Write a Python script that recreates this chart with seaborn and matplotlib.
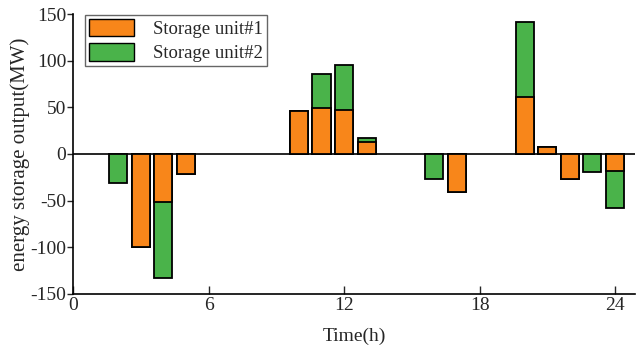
import matplotlib
matplotlib.use("Agg")
import matplotlib.pyplot as plt
import numpy as np
import pandas as pd
import seaborn as sns
from matplotlib.patches import Patch

# horas y potencia de cada unidad de almacenamiento (MW)
horas = list(range(1, 25))
unidad1 = [0, 0, -100, -52, -22, 0, 0, 0, 0, 46, 49, 47, 12.5, 0, 0, 0, -41, 0, 0, 61, 7, -27, 0, -18]
unidad2 = [0, -31, 0, -81, 0, 0, 0, 0, 0, 0, 37, 48, 4.5, 0, 0, -27, 0, 0, 0, 80, 0, 0, -19, -39.5]
etiquetas = ["Storage unit#1", "Storage unit#2"]
xticks = [0, 6, 12, 18, 24]
yticks = [-150, -100, -50, 0, 50, 100, 150]

naranja = "#F8861A"
verde = "#4AB34A"

sns.set_style("white")
plt.rcParams["font.family"] = ["Liberation Serif", "DejaVu Serif"]
plt.rcParams["axes.unicode_minus"] = False

df = pd.DataFrame({"hora": horas, "u1": unidad1, "u2": unidad2})
df["total"] = df["u1"] + df["u2"]
# los ceros no se dibujan
df_total = df[df["total"] != 0]
df_u1 = df[df["u1"] != 0]

fig = plt.figure(figsize=(6.36, 3.51), dpi=100)
ax = fig.add_axes([0.115, 0.163, 0.884, 0.797])

# barras apiladas: primero el total (verde), encima la unidad 1 (naranja)
sns.barplot(data=df_total, x="hora", y="total", native_scale=True, color=verde,
            saturation=1, width=0.8, edgecolor="black", linewidth=1.3, ax=ax)
sns.barplot(data=df_u1, x="hora", y="u1", native_scale=True, color=naranja,
            saturation=1, width=0.8, edgecolor="black", linewidth=1.3, ax=ax)

ax.axhline(0, color="black", lw=1.2, zorder=0.5)

ax.set_xlim(0, 24.9)
ax.set_ylim(-150, 150)
ax.set_xticks(xticks)
ax.set_yticks(yticks)
ax.set_xlabel("Time(h)", fontsize=14, labelpad=10)
ax.set_ylabel("energy storage output(MW)", fontsize=15, labelpad=0)
ax.tick_params(axis="x", direction="in", length=6, width=1, labelsize=14, pad=2, bottom=True)
ax.tick_params(axis="y", direction="out", length=4, width=1, labelsize=14, pad=1, left=True)

sns.despine(ax=ax)
for s in ["left", "bottom"]:
    ax.spines[s].set_color("black")
    ax.spines[s].set_linewidth(1.2)

handles = [Patch(facecolor=naranja, edgecolor="black", lw=1),
           Patch(facecolor=verde, edgecolor="black", lw=1)]
leg = ax.legend(handles, etiquetas, loc="upper left", bbox_to_anchor=(0.02, 1.0),
                fontsize=13.5, handlelength=2.35, handleheight=1.05, handletextpad=1.05,
                labelspacing=0.27, borderpad=0.22, fancybox=False, framealpha=1,
                borderaxespad=0.05)
leg.get_frame().set_edgecolor("#666666")
leg.get_frame().set_linewidth(1)

fig.savefig("out.png", dpi=100)
